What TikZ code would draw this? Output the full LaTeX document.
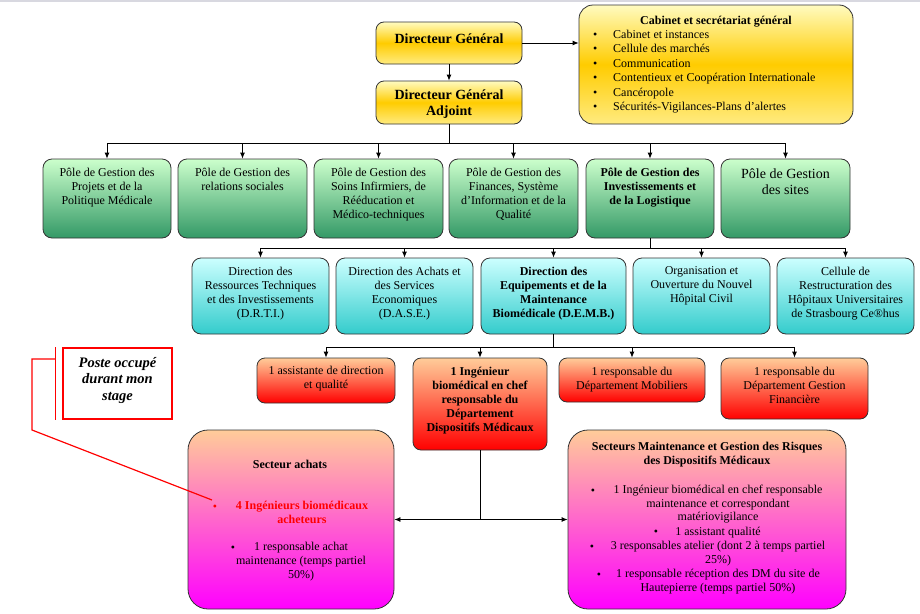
\documentclass[tikz,border=0pt]{standalone}
\usepackage{fontspec}
\setmainfont{Liberation Serif}
\usetikzlibrary{arrows.meta}
\definecolor{ytop}{HTML}{FFFBC0}
\definecolor{ymid}{HTML}{FFCC00}
\definecolor{ybot}{HTML}{FFEB80}
\definecolor{gtop}{HTML}{CCFFCC}
\definecolor{gbot}{HTML}{339966}
\definecolor{ctop}{HTML}{CCFFFF}
\definecolor{cbot}{HTML}{33CCCC}
\definecolor{otop}{HTML}{FFCC99}
\definecolor{obot}{HTML}{FF0000}
\definecolor{mbot}{HTML}{FF00FF}
\definecolor{edge}{HTML}{333333}
\definecolor{topband}{HTML}{D8D8E0}
\newcommand\fs[2]{\fontsize{#1}{#2}\selectfont}
\newcommand\bul{\makebox[20pt][l]{•}}
\begin{document}
\begin{tikzpicture}[x=1pt,y=-1pt,
  box/.style={draw=edge, line width=0.8pt, inner sep=0pt, rounded corners=8pt},
  yel/.style={box, top color=ytop, bottom color=ybot, middle color=ymid},
  grn/.style={box, top color=gtop, bottom color=gbot, rounded corners=9pt, minimum height=79pt},
  cyn/.style={box, top color=ctop, bottom color=cbot, rounded corners=9pt, minimum height=76pt},
  org/.style={box, top color=otop, bottom color=obot},
  mag/.style={box, top color=otop, bottom color=mbot, rounded corners=20pt, minimum height=179pt},
  txt/.style={align=center, inner sep=0pt, anchor=north, font=\fs{12}{14}},
  btxt/.style={align=center, inner sep=0pt, anchor=north, font=\bfseries\fs{12}{14}},
  bl/.style={inner sep=0pt, anchor=base, font=\fs{12}{14}},
  arr/.style={-{Latex[length=6pt,width=5pt]}, line width=0.8pt},
  ln/.style={line width=0.8pt},
  callline/.style={draw=red, line width=1.2pt},
]
\useasboundingbox (0,0) rectangle (920,613);
\fill[topband] (0,0) rectangle (920,2);

% top level
\node[yel, minimum width=146pt, minimum height=42pt] (dg) at (449,43) {};
\node[inner sep=0pt, font=\bfseries\fs{14}{16}] (dgt) at (449,39) {Directeur Général};
\node[yel, minimum width=146pt, minimum height=43pt] (dga) at (449,102.5) {};
\node[align=center, inner sep=0pt, font=\bfseries\fs{14}{16}] (dgat) at (449,104) {Directeur Général\\Adjoint};

\node[yel, rounded corners=14pt, minimum width=274pt, minimum height=119pt] (cab) at (716,64.5) {};
\node[inner sep=0pt, anchor=base, font=\bfseries\fs{12}{14}] (cabt) at (716,24) {Cabinet et secrétariat général};
\node[anchor=north west, align=left, inner sep=0pt, font=\fs{12}{14.4}] (cabl) at (593,30)
  {\bul Cabinet et instances\\ \bul Cellule des marchés\\ \bul Communication\\
   \bul Contentieux et Coopération Internationale\\ \bul Cancéropole\\
   \bul Sécurités-Vigilances-Plans d’alertes};

\draw[arr] (dg) -- (dga);
\draw[arr] (dg.east) -- (dg.east -| cab.west);

% poles
\node[grn, minimum width=128pt] (p1) at (107,198.5) {};
\node[grn, minimum width=129pt] (p2) at (242.5,198.5) {};
\node[grn, minimum width=129pt] (p3) at (378.5,198.5) {};
\node[grn, minimum width=129pt] (p4) at (513.5,198.5) {};
\node[grn, minimum width=128pt] (p5) at (650,198.5) {};
\node[grn, minimum width=129pt] (p6) at (785.5,198.5) {};
\node[txt] (p1t) at (107,167.5) {Pôle de Gestion des\\Projets et de la\\Politique Médicale};
\node[txt] (p2t) at (242.5,167.5) {Pôle de Gestion des\\relations sociales};
\node[txt] (p3t) at (378.5,167.5) {Pôle de Gestion des\\Soins Infirmiers, de\\Rééducation et\\Médico-techniques};
\node[txt] (p4t) at (513.5,167.5) {Pôle de Gestion des\\Finances, Système\\d’Information et de la\\Qualité};
\node[btxt] (p5t) at (650,167.5) {Pôle de Gestion des\\Investissements et\\de la Logistique};
\node[txt, font=\fs{14}{16}] (p6t) at (785.5,168.5) {Pôle de Gestion\\des sites};

\coordinate (bus1) at (449,143);
\draw[ln] (dga.south) -- (bus1);
\foreach \p in {p1,p2,p3,p4,p5,p6} \draw[arr] (bus1) -| (\p.north);

% directions
\node[cyn, minimum width=137pt] (d1) at (260.5,296) {};
\node[cyn, minimum width=137pt] (d2) at (404.5,296) {};
\node[cyn, minimum width=145pt] (d3) at (553.5,296) {};
\node[cyn, minimum width=137pt] (d4) at (701.5,296) {};
\node[cyn, minimum width=137pt] (d5) at (845.5,296) {};
\node[txt] (d1t) at (260.5,266.5) {Direction des\\Ressources Techniques\\et des Investissements\\(D.R.T.I.)};
\node[txt] (d2t) at (404.5,266.5) {Direction des Achats et\\des Services\\Economiques\\(D.A.S.E.)};
\node[btxt] (d3t) at (553.5,266.5) {Direction des\\Equipements et de la\\Maintenance\\Biomédicale (D.E.M.B.)};
\node[txt] (d4t) at (701.5,266.5) {Organisation et\\Ouverture du Nouvel\\Hôpital Civil};
\node[txt] (d5t) at (845.5,266.5) {Cellule de\\Restructuration des\\Hôpitaux Universitaires\\de Strasbourg Ce®hus};

\coordinate (bus2) at (650,248);
\draw[ln] (p5.south) -- (bus2);
\foreach \d in {d1,d2,d3,d4,d5} \draw[arr] (bus2) -| (\d.north);

% DEMB staff
\node[org, minimum width=138pt, minimum height=45pt] (a1) at (326,380.5) {};
\node[org, minimum width=134pt, minimum height=92pt] (a2) at (480,404) {};
\node[org, minimum width=146pt, minimum height=44pt] (a3) at (632,380) {};
\node[org, minimum width=147pt, minimum height=61pt] (a4) at (794.5,388.5) {};
\node[txt] (a1t) at (326,365.5) {1 assistante de direction\\et qualité};
\node[btxt] (a2t) at (480,366.5) {1 Ingénieur\\biomédical en chef\\responsable du\\Département\\Dispositifs Médicaux};
\node[txt] (a3t) at (632,366.5) {1 responsable du\\Département Mobiliers};
\node[txt] (a4t) at (794.5,366.5) {1 responsable du\\Département Gestion\\Financière};

\coordinate (bus3) at (553.5,347);
\draw[ln] (d3.south) -- (bus3);
\foreach \a in {a1,a2,a3,a4} \draw[arr] (bus3) -| (\a.north);

% sectors
\node[mag, minimum width=206pt] (l1) at (291,519.5) {};
\node[mag, minimum width=278pt] (l2) at (707,519.5) {};

\node[inner sep=0pt, anchor=base, font=\bfseries\fs{12}{14}] (l1t) at (290,468) {Secteur achats};
\node[bl, text=red] (rb) at (215,510) {•};
\node[btxt, text=red] (l1i1) at (302,501) {4 Ingénieurs biomédicaux\\acheteurs};
\node[bl] (bb) at (233,551) {•};
\node[txt] (l1i2) at (301,542) {1 responsable achat\\maintenance (temps partiel\\50\%)};

\node[btxt] (l2t) at (707,442) {Secteurs Maintenance et Gestion des Risques\\des Dispositifs Médicaux};
\node[bl] (b1) at (593,494) {•};
\node[txt, font=\fs{12}{13.5}] (l2i1) at (718,485) {1 Ingénieur biomédical en chef responsable\\maintenance et correspondant\\matériovigilance};
\node[bl] (b2) at (656,535) {•};
\node[bl] (l2i2) at (718,535) {1 assistant qualité};
\node[bl] (b3) at (592,550) {•};
\node[txt] (l2i3) at (718,541) {3 responsables atelier (dont 2 à temps partiel\\25\%)};
\node[bl] (b4) at (599,578) {•};
\node[txt] (l2i4) at (718,569) {1 responsable réception des DM du site de\\Hautepierre (temps partiel 50\%)};

\coordinate (bus4) at (480,519.5);
\draw[ln] (a2.south) -- (bus4);
\draw[arr] (bus4) -- (l1.east);
\draw[arr] (bus4) -- (l2.west);

% callout
\node[draw=red, line width=1.2pt, minimum width=109pt, minimum height=71pt, inner sep=0pt] (call) at (117.5,383.5) {};
\node[align=center, inner sep=0pt, font=\bfseries\itshape\fs{14.5}{16.5}] (callt) at (117.5,380) {Poste occupé\\durant mon\\stage};
\coordinate (acc1) at ([xshift=-7pt]call.north west);
\coordinate (acc2) at ([xshift=-7pt]call.south west);
\draw[callline] (acc1) -- (acc2);
\coordinate (cstart) at (acc1 |- 0,359);
\coordinate (cend) at (212,500);
\draw[callline] (cstart) -- (32,359) -- (32,430) -- (cend);
\end{tikzpicture}
\end{document}
